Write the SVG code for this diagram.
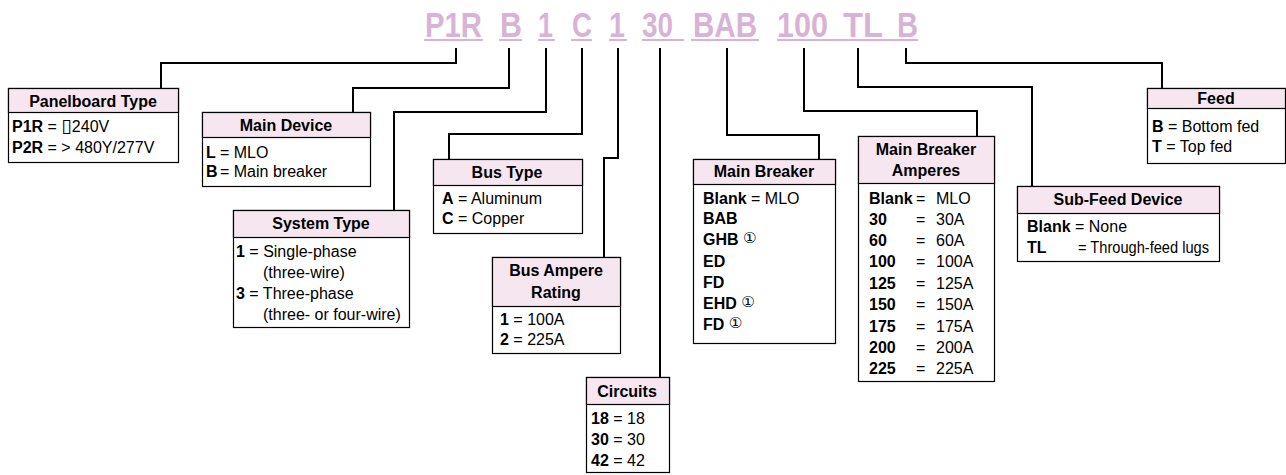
<svg xmlns="http://www.w3.org/2000/svg" width="1286" height="475" viewBox="0 0 1286 475">
<style>
.code{font-family:"Liberation Sans",Arial,sans-serif;font-weight:bold;font-size:35px;fill:#d9b3d6}
.ul{stroke:#d9b3d6;stroke-width:2}
.con{fill:none;stroke:#000;stroke-width:2}
.box{fill:#fff;stroke:#000;stroke-width:1.2}
.hf{fill:#f5e6f0;stroke:#000;stroke-width:1.2}
.hd{font-family:"Liberation Sans",Arial,sans-serif;font-weight:bold;font-size:16px;text-anchor:middle;fill:#000}
.tx{font-family:"Liberation Sans",Arial,sans-serif;font-size:16px;fill:#000}
.b{font-weight:bold}
.sym{font-family:"DejaVu Sans",sans-serif;font-size:19px}
.c1{font-family:"DejaVu Sans",sans-serif;font-size:15px;font-weight:normal}
</style>
<rect width="1286" height="475" fill="#fff"/>
<g id="code">
<text class="code" x="425" y="37" textLength="57" lengthAdjust="spacingAndGlyphs">P1R</text>
<text class="code" x="500" y="37" textLength="22" lengthAdjust="spacingAndGlyphs">B</text>
<text class="code" x="538" y="37" textLength="15" lengthAdjust="spacingAndGlyphs">1</text>
<text class="code" x="572" y="37" textLength="20" lengthAdjust="spacingAndGlyphs">C</text>
<text class="code" x="609" y="37" textLength="16" lengthAdjust="spacingAndGlyphs">1</text>
<text class="code" x="642" y="37" textLength="31" lengthAdjust="spacingAndGlyphs">30</text>
<text class="code" x="693" y="37" textLength="64" lengthAdjust="spacingAndGlyphs">BAB</text>
<text class="code" x="777" y="37" textLength="51" lengthAdjust="spacingAndGlyphs">100</text>
<text class="code" x="843" y="37" textLength="40" lengthAdjust="spacingAndGlyphs">TL</text>
<text class="code" x="897" y="37" textLength="21" lengthAdjust="spacingAndGlyphs">B</text>
<line class="ul" x1="424" y1="40" x2="483" y2="40"/>
<line class="ul" x1="499" y1="40" x2="522" y2="40"/>
<line class="ul" x1="538" y1="40" x2="555" y2="40"/>
<line class="ul" x1="571" y1="40" x2="592" y2="40"/>
<line class="ul" x1="609" y1="40" x2="627" y2="40"/>
<line class="ul" x1="642" y1="40" x2="684" y2="40"/>
<line class="ul" x1="691" y1="40" x2="759" y2="40"/>
<line class="ul" x1="777" y1="40" x2="918" y2="40"/>
</g>
<g id="connectors">
<polyline class="con" points="456,48 456,63 161,63 161,88"/>
<polyline class="con" points="509,48 509,88 353,88 353,112"/>
<polyline class="con" points="546,48 546,112 394,112 394,210"/>
<polyline class="con" points="582,48 582,134 449,134 449,159"/>
<polyline class="con" points="618,48 618,158 604,158 604,257"/>
<polyline class="con" points="660,48 660,377"/>
<polyline class="con" points="727,48 727,135 819,135 819,159"/>
<polyline class="con" points="804,48 804,111 977,111 977,136"/>
<polyline class="con" points="858,48 858,87 1032,87 1032,186"/>
<polyline class="con" points="906,48 906,63 1162,63 1162,88"/>
</g>
<g id="panelboard-type">
<rect class="box" x="8.5" y="88.5" width="170" height="74"/>
<rect class="hf" x="8.5" y="88.5" width="170" height="24"/>
<text class="hd" x="93" y="107">Panelboard Type</text>
<text class="tx" x="12" y="132"><tspan class="b">P1R</tspan> = <tspan class="sym">▯</tspan>240V</text>
<text class="tx" x="12" y="153"><tspan class="b">P2R</tspan> = &gt; 480Y/277V</text>
</g>
<g id="main-device">
<rect class="box" x="202.5" y="112.5" width="168" height="74"/>
<rect class="hf" x="202.5" y="112.5" width="168" height="25"/>
<text class="hd" x="286" y="131">Main Device</text>
<text class="tx" x="206" y="158"><tspan class="b">L</tspan><tspan x="220">= MLO</tspan></text>
<text class="tx" x="206" y="177"><tspan class="b">B</tspan><tspan x="220">= Main breaker</tspan></text>
</g>
<g id="system-type">
<rect class="box" x="233.5" y="210.5" width="176" height="117"/>
<rect class="hf" x="233.5" y="210.5" width="176" height="27"/>
<text class="hd" x="321" y="229">System Type</text>
<text class="tx" x="236" y="257"><tspan class="b">1</tspan> = Single-phase</text>
<text class="tx" x="263" y="278">(three-wire)</text>
<text class="tx" x="236" y="299"><tspan class="b">3</tspan> = Three-phase</text>
<text class="tx" x="263" y="320">(three- or four-wire)</text>
</g>
<g id="bus-type">
<rect class="box" x="433.5" y="159.5" width="149" height="74"/>
<rect class="hf" x="433.5" y="159.5" width="149" height="26"/>
<text class="hd" x="507" y="178">Bus Type</text>
<text class="tx" x="442" y="204"><tspan class="b">A</tspan> = Aluminum</text>
<text class="tx" x="442" y="224"><tspan class="b">C</tspan> = Copper</text>
</g>
<g id="bus-ampere-rating">
<rect class="box" x="492.5" y="257.5" width="128" height="96"/>
<rect class="hf" x="492.5" y="257.5" width="128" height="49"/>
<text class="hd" x="556" y="276">Bus Ampere</text>
<text class="hd" x="556" y="298">Rating</text>
<text class="tx" x="500" y="325"><tspan class="b">1</tspan> = 100A</text>
<text class="tx" x="500" y="345"><tspan class="b">2</tspan> = 225A</text>
</g>
<g id="circuits">
<rect class="box" x="586.5" y="377.5" width="83" height="95"/>
<rect class="hf" x="586.5" y="377.5" width="83" height="27"/>
<text class="hd" x="627" y="397">Circuits</text>
<text class="tx" x="591" y="424"><tspan class="b">18</tspan> = 18</text>
<text class="tx" x="591" y="445"><tspan class="b">30</tspan> = 30</text>
<text class="tx" x="591" y="466"><tspan class="b">42</tspan> = 42</text>
</g>
<g id="main-breaker">
<rect class="box" x="693.5" y="159.5" width="142" height="184"/>
<rect class="hf" x="693.5" y="159.5" width="142" height="25"/>
<text class="hd" x="764" y="177">Main Breaker</text>
<text class="tx" x="703" y="204"><tspan class="b">Blank</tspan> = MLO</text>
<text class="tx b" x="703" y="224">BAB</text>
<text class="tx" x="703" y="245"><tspan class="b">GHB</tspan> <tspan class="c1" dy="-2">①</tspan></text>
<text class="tx b" x="703" y="267">ED</text>
<text class="tx b" x="703" y="288">FD</text>
<text class="tx" x="703" y="309"><tspan class="b">EHD</tspan> <tspan class="c1" dy="-2">①</tspan></text>
<text class="tx" x="703" y="330"><tspan class="b">FD</tspan> <tspan class="c1" dy="-2">①</tspan></text>
</g>
<g id="main-breaker-amperes">
<rect class="box" x="858.5" y="136.5" width="136" height="245"/>
<rect class="hf" x="858.5" y="136.5" width="136" height="47"/>
<text class="hd" x="926" y="155">Main Breaker</text>
<text class="hd" x="926" y="176">Amperes</text>
<text class="tx" x="869" y="204"><tspan class="b">Blank</tspan><tspan x="916">=</tspan><tspan x="936">MLO</tspan></text>
<text class="tx" x="869" y="225"><tspan class="b">30</tspan><tspan x="916">=</tspan><tspan x="936">30A</tspan></text>
<text class="tx" x="869" y="246"><tspan class="b">60</tspan><tspan x="916">=</tspan><tspan x="936">60A</tspan></text>
<text class="tx" x="869" y="267"><tspan class="b">100</tspan><tspan x="916">=</tspan><tspan x="936">100A</tspan></text>
<text class="tx" x="869" y="289"><tspan class="b">125</tspan><tspan x="916">=</tspan><tspan x="936">125A</tspan></text>
<text class="tx" x="869" y="310"><tspan class="b">150</tspan><tspan x="916">=</tspan><tspan x="936">150A</tspan></text>
<text class="tx" x="869" y="332"><tspan class="b">175</tspan><tspan x="916">=</tspan><tspan x="936">175A</tspan></text>
<text class="tx" x="869" y="353"><tspan class="b">200</tspan><tspan x="916">=</tspan><tspan x="936">200A</tspan></text>
<text class="tx" x="869" y="374"><tspan class="b">225</tspan><tspan x="916">=</tspan><tspan x="936">225A</tspan></text>
</g>
<g id="sub-feed-device">
<rect class="box" x="1017.5" y="186.5" width="202" height="75"/>
<rect class="hf" x="1017.5" y="186.5" width="202" height="27"/>
<text class="hd" x="1118" y="205">Sub-Feed Device</text>
<text class="tx" x="1027" y="232"><tspan class="b">Blank</tspan> = None</text>
<text class="tx" x="1027" y="253"><tspan class="b">TL</tspan><tspan x="1078" textLength="131" lengthAdjust="spacingAndGlyphs">= Through-feed lugs</tspan></text>
</g>
<g id="feed">
<rect class="box" x="1147.5" y="88.5" width="138" height="75"/>
<rect class="hf" x="1147.5" y="88.5" width="138" height="20"/>
<text class="hd" x="1216" y="104">Feed</text>
<text class="tx" x="1152" y="132"><tspan class="b">B</tspan> = Bottom fed</text>
<text class="tx" x="1152" y="152"><tspan class="b">T</tspan> = Top fed</text>
</g>
</svg>
